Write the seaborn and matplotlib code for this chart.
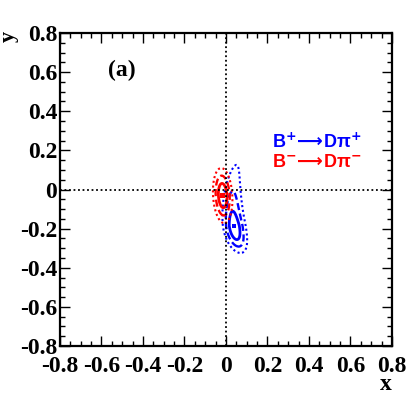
import numpy as np
import matplotlib
matplotlib.use("Agg")
import matplotlib.pyplot as plt
import seaborn as sns
import pandas as pd

# ---- data ----
samples = ["B+", "B-"]
colors = ["#0000ff", "#ff0000"]
fit_x = [0.040, -0.016]          # best-fit x
fit_y = [-0.186, -0.031]         # best-fit y
sig_x = [0.016, 0.0135]          # horizontal sigma
ext_up = [0.075, 0.062]          # extent of 1-sigma contour above best fit
ext_dn = [0.070, 0.062]          # extent of 1-sigma contour below best fit
pow_up = [1.15, 2.0]             # shape of likelihood above best fit
pow_dn = [2.4, 2.0]              # shape of likelihood below best fit
tilt = [-0.14, -0.05]            # shift of contour centre with y
bend = [0.55, 0.0]               # curvature of contour centre with y
levels = [2.30, 6.18, 11.83]     # delta chi2 for 1, 2, 3 sigma (2D)
level_styles = ["-", (0, (3, 1.5)), (0, (1, 1.3))]
level_widths = [2.0, 1.7, 1.5]
legend_labels = ["B$^{\\mathbf{+}}\\!\\longrightarrow\\!$D\u03c0$^{\\mathbf{+}}$",
                 "B$^{\\mathbf{-}}\\!\\longrightarrow\\!$D\u03c0$^{\\mathbf{-}}$"]
ticks = [-0.8, -0.6, -0.4, -0.2, 0, 0.2, 0.4, 0.6, 0.8]
tick_labels = ["-0.8", "-0.6", "-0.4", "-0.2", "0", "0.2", "0.4", "0.6", "0.8"]

sns.set_style("ticks")
plt.rcParams["font.family"] = ["Liberation Serif", "DejaVu Serif"]
plt.rcParams["font.weight"] = "bold"
plt.rcParams["text.color"] = "black"
plt.rcParams["axes.labelcolor"] = "black"
plt.rcParams["xtick.color"] = "black"
plt.rcParams["ytick.color"] = "black"
plt.rcParams["mathtext.fontset"] = "dejavusans"

fig = plt.figure(figsize=(4.15, 3.93), dpi=100)
ax = fig.add_axes([60 / 415, 47 / 393, 332 / 415, 313 / 393])

g = np.linspace(-0.8, 0.8, 1201)
X, Y = np.meshgrid(g, g)
for i in range(len(samples)):
    u = Y - fit_y[i]
    xc = fit_x[i] + tilt[i] * u + bend[i] * u ** 2
    fy = np.where(u > 0,
                  levels[0] * (np.abs(u) / ext_up[i]) ** pow_up[i],
                  levels[0] * (np.abs(u) / ext_dn[i]) ** pow_dn[i])
    chi2 = ((X - xc) / sig_x[i]) ** 2 + fy
    ax.contour(X, Y, chi2, levels=levels, colors=[colors[i]] * 3,
               linestyles=level_styles, linewidths=level_widths)

pts = pd.DataFrame({"x": fit_x, "y": fit_y, "s": samples})
sns.scatterplot(data=pts, x="x", y="y", hue="s", palette=colors, marker="s",
                s=10, edgecolor="none", legend=False, ax=ax, zorder=5)

ax.axvline(0, color="black", lw=1.3, ls=(0, (1, 1.5)))
ax.axhline(0, color="black", lw=1.3, ls=(0, (1, 1.5)))

ax.set_xlim(-0.8, 0.8)
ax.set_ylim(-0.8, 0.8)
ax.set_xticks(ticks)
ax.set_xticklabels(tick_labels)
ax.set_yticks(ticks)
ax.set_yticklabels(tick_labels)
ax.set_xticks(np.arange(-0.8, 0.81, 0.05), minor=True)
ax.set_yticks(np.arange(-0.8, 0.81, 0.05), minor=True)
ax.tick_params(which="both", direction="in", top=True, right=True, width=1.0, color="black")
ax.tick_params(which="major", length=7, labelsize=17, pad=2)
ax.tick_params(axis="x", which="major", pad=7)
ax.tick_params(which="minor", length=3.5)
for lab in ax.get_xticklabels() + ax.get_yticklabels():
    lab.set_fontweight("bold")
for sp in ax.spines.values():
    sp.set_linewidth(1.6)
    sp.set_color("black")

ax.set_xlabel("")
ax.set_ylabel("")
fig.text(392 / 415, 1 - 390 / 393, "x", fontsize=17, fontweight="bold",
         ha="right", va="baseline")
fig.text(19 / 415, 1 - 31 / 393, "y", fontsize=16, fontweight="bold",
         rotation=90, ha="right", va="top")

ax.text(-0.503, 0.611, "(a)", fontsize=17, fontweight="bold", ha="center", va="center")
ax.text(0.22, 0.243, legend_labels[0], color=colors[0], fontsize=13,
        family="Liberation Sans", fontweight="bold", ha="left", va="center")
ax.text(0.22, 0.138, legend_labels[1], color=colors[1], fontsize=13,
        family="Liberation Sans", fontweight="bold", ha="left", va="center")

fig.savefig("out.png", dpi=100, facecolor="white")
